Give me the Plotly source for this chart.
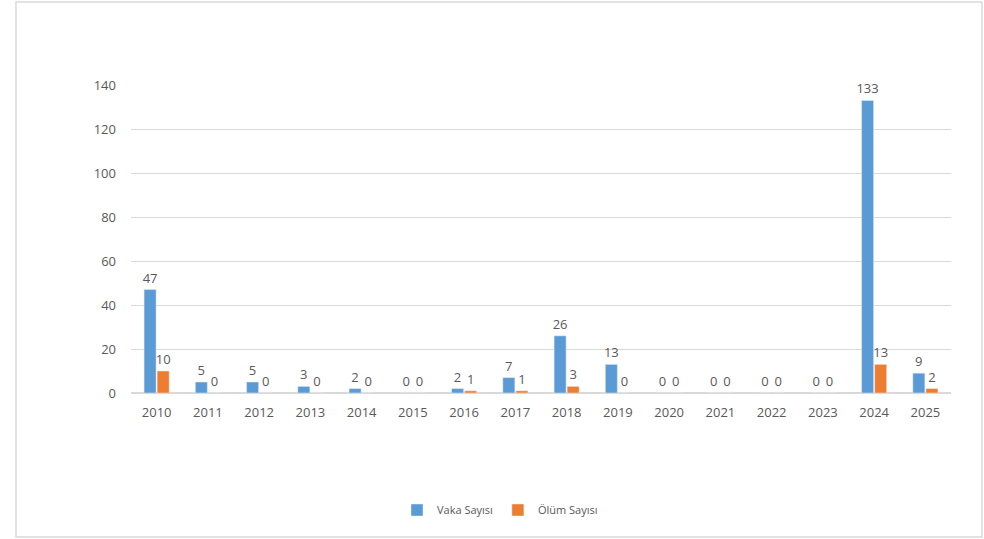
import plotly.graph_objects as go

years = ["2010", "2011", "2012", "2013", "2014", "2015", "2016", "2017",
         "2018", "2019", "2020", "2021", "2022", "2023", "2024", "2025"]
vaka = [47, 5, 5, 3, 2, 0, 2, 7, 26, 13, 0, 0, 0, 0, 133, 9]
olum = [10, 0, 0, 0, 0, 0, 1, 1, 3, 0, 0, 0, 0, 0, 13, 2]

W, H = 984, 539
L, R, T, B = 131, 33, 85, 146
pw, ph = W - L - R, H - T - B

font = dict(family="Open Sans, Liberation Sans, sans-serif", size=13, color="#595959")

fig = go.Figure()
fig.add_trace(go.Bar(x=years, y=vaka, name="Vaka Sayısı", marker_color="#5B9BD5",
                     text=vaka, textposition="outside", cliponaxis=False,
                     constraintext="none", textfont=font))
fig.add_trace(go.Bar(x=years, y=olum, name="Ölüm Sayısı", marker_color="#ED7D31",
                     text=olum, textposition="outside", cliponaxis=False,
                     constraintext="none", textfont=font))

def px2paper_x(px):
    return (px - L) / pw

def px2paper_y(py):
    return (H - B - py) / ph

fig.update_layout(
    width=W, height=H,
    margin=dict(l=L, r=R, t=T, b=B),
    paper_bgcolor="white", plot_bgcolor="white",
    barmode="group", bargap=0.49, bargroupgap=0.08,
    font=font,
    showlegend=True,
    legend=dict(orientation="h", x=px2paper_x(500), xanchor="center",
                y=px2paper_y(510), yanchor="middle",
                font=dict(family="Open Sans, Liberation Sans, sans-serif", size=11, color="#595959"),
                itemwidth=30),
    xaxis=dict(showgrid=False, showline=False, ticks="", tickfont=font,
               ticklabelstandoff=10),
    yaxis=dict(range=[0, 140], dtick=20, showgrid=True, gridcolor="#d9d9d9",
               gridwidth=1, zeroline=True, zerolinecolor="#d9d9d9",
               ticks="", tickfont=font, ticklabelstandoff=14),
    shapes=[dict(type="rect", xref="paper", yref="paper",
                 x0=px2paper_x(16), x1=px2paper_x(982),
                 y0=px2paper_y(537), y1=px2paper_y(2),
                 line=dict(color="#d9d9d9", width=1.5), layer="below")],
)

fig.write_html("out.html")
